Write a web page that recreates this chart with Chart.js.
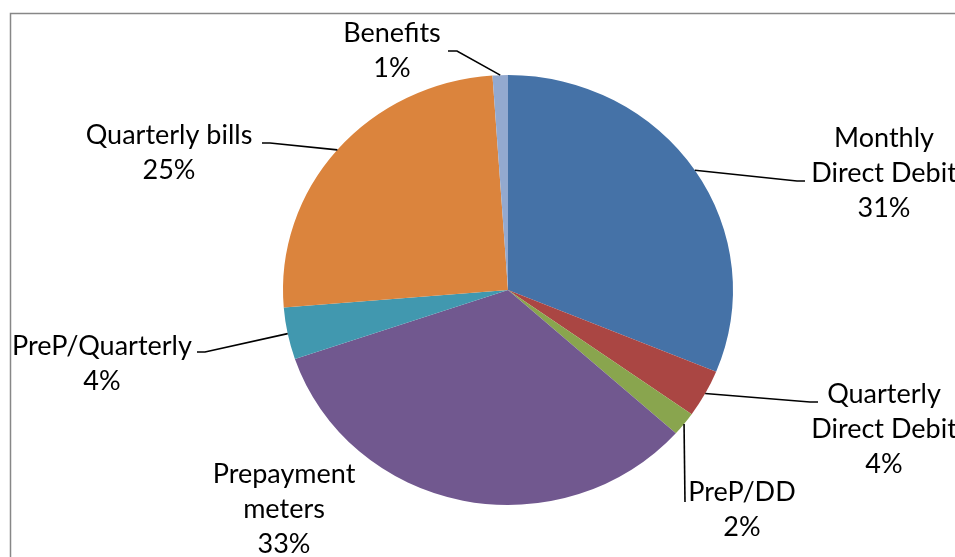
<!DOCTYPE html>
<html lang="en">
  <head>
    <meta charset="utf-8">
    <title>Payment methods</title>
    <script src="https://cdn.jsdelivr.net/npm/chart.js"></script>
    <style>
      body { margin: 0; background: #fff; }
    </style>
  </head>
  <body>
    <canvas id="myChart" width="955" height="557"></canvas>
    <script>
      // slices, clockwise from 12 o'clock
      var categories = ["Monthly Direct Debit", "Quarterly Direct Debit", "PreP/DD",
        "Prepayment meters", "PreP/Quarterly", "Quarterly bills", "Benefits"];
      var shares = [31.2, 3.6, 1.8, 33.2, 3.9, 25.2, 1.1];
      var sliceColours = ["#4572a7", "#aa4643", "#89a54e", "#71588f", "#4198af", "#db843d", "#93a9cf"];
      // how each category name wraps on the chart
      var labelLines = [["Monthly", "Direct Debit"], ["Quarterly", "Direct Debit"], ["PreP/DD"],
        ["Prepayment", "meters"], ["PreP/Quarterly"], ["Quarterly bills"], ["Benefits"]];

      // label placement: centre x, first baseline, leader elbow and end (null = no leader)
      var labelLayout = [
        { x: 884, y: 147, elbow: [797, 181], end: [805, 181] },
        { x: 884, y: 403, elbow: [810, 402], end: [818, 402] },
        { x: 742, y: 501, elbow: [685, 502], end: [685, 502] },
        { x: 284, y: 483, elbow: null, end: null },
        { x: 102, y: 355, elbow: [205, 352], end: [197, 352] },
        { x: 169, y: 144, elbow: [270, 143], end: [262, 143] },
        { x: 392, y: 42, elbow: [457, 51], end: [448, 51] }
      ];
      var lineGap = 35;
      var stretchX = 225 / 215;   // the pie in the picture is a little wider than tall

      function pieGeometry(chart) {
        var arc = chart.getDatasetMeta(0).data[0];
        return { cx: arc.x, cy: arc.y, r: arc.outerRadius };
      }

      var ellipsePlugin = {
        id: "ellipse",
        beforeDatasetsDraw: function (chart) {
          var g = pieGeometry(chart), ctx = chart.ctx;
          ctx.save();
          ctx.translate(g.cx, g.cy);
          ctx.scale(stretchX, 1);
          ctx.translate(-g.cx, -g.cy);
        },
        afterDatasetsDraw: function (chart) {
          chart.ctx.restore();
        }
      };

      var framePlugin = {
        id: "frame",
        beforeDraw: function (chart) {
          var ctx = chart.ctx;
          ctx.save();
          ctx.strokeStyle = "#878787";
          ctx.lineWidth = 1.5;
          ctx.beginPath();
          ctx.moveTo(10.5, 600);
          ctx.lineTo(10.5, 13.5);
          ctx.lineTo(1000, 13.5);
          ctx.stroke();
          ctx.restore();
        }
      };

      var labelPlugin = {
        id: "pieLabels",
        afterDraw: function (chart) {
          var ctx = chart.ctx, g = pieGeometry(chart);
          var total = shares.reduce(function (a, b) { return a + b; }, 0);
          var meta = chart.getDatasetMeta(0);
          ctx.save();
          meta.data.forEach(function (arc, i) {
            var lay = labelLayout[i];
            if (lay.end) {
              var mid = (arc.startAngle + arc.endAngle) / 2;
              var px = g.cx + Math.cos(mid) * g.r * stretchX;
              var py = g.cy + Math.sin(mid) * g.r;
              ctx.strokeStyle = "#000";
              ctx.lineWidth = 1.6;
              ctx.beginPath();
              ctx.moveTo(px, py);
              ctx.lineTo(lay.elbow[0], lay.elbow[1]);
              ctx.lineTo(lay.end[0], lay.end[1]);
              ctx.stroke();
            }
            var lines = labelLines[i].concat([Math.round(shares[i] / total * 100) + "%"]);
            ctx.fillStyle = "#000";
            ctx.font = "27px Lato";
            ctx.textAlign = "center";
            ctx.textBaseline = "alphabetic";
            lines.forEach(function (t, k) {
              ctx.fillText(t, lay.x, lay.y + k * lineGap);
            });
          });
          ctx.restore();
        }
      };

      var chart = new Chart("myChart", {
        type: "pie",
        data: {
          labels: categories,
          datasets: [{
            data: shares,
            backgroundColor: sliceColours,
            borderWidth: 0,
            hoverOffset: 0
          }]
        },
        options: {
          responsive: false,
          animation: false,
          layout: { padding: { top: 75, bottom: 52, left: 293, right: 232 } },
          plugins: {
            legend: { display: false },
            tooltip: { enabled: false }
          }
        },
        plugins: [framePlugin, ellipsePlugin, labelPlugin]
      });
    </script>
  </body>
</html>
